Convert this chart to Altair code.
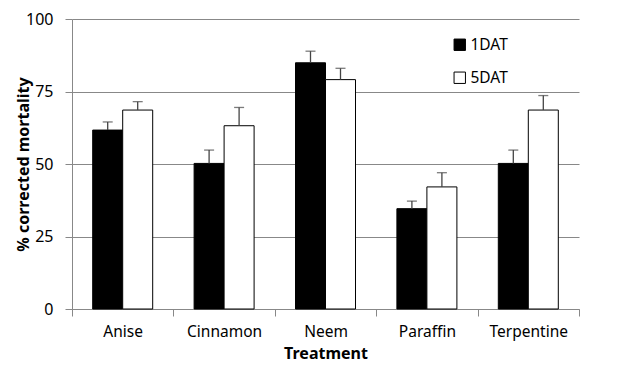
import altair as alt
import pandas as pd

treatments = ["Anise", "Cinnamon", "Neem", "Paraffin", "Terpentine"]
series = ["1DAT", "5DAT"]
mean_1dat = [61.7, 50.2, 84.9, 34.6, 50.2]
mean_5dat = [68.6, 63.2, 79.1, 42.1, 68.6]
err_1dat = [2.8, 4.6, 4.0, 2.6, 4.6]
err_5dat = [2.9, 6.3, 3.9, 4.9, 5.0]

rows = []
for i, t in enumerate(treatments):
    rows.append({"Treatment": t, "Series": "1DAT", "Mean": mean_1dat[i], "Top": mean_1dat[i] + err_1dat[i]})
    rows.append({"Treatment": t, "Series": "5DAT", "Mean": mean_5dat[i], "Top": mean_5dat[i] + err_5dat[i]})
df = pd.DataFrame(rows)

FONT = "Noto Sans"

x_enc = alt.X("Treatment:N", sort=treatments,
              scale=alt.Scale(paddingInner=0, paddingOuter=0),
              axis=alt.Axis(title="Treatment", tickBand="extent", labelAngle=0,
                            labelFontSize=15.5, titleFontSize=16, titleFontWeight="bold",
                            labelColor="#000", titleColor="#000",
                            domainColor="#888", tickColor="#888", tickSize=7,
                            labelPadding=8, titlePadding=6))
xoff = alt.XOffset("Series:N", sort=series,
                   scale=alt.Scale(paddingInner=0, paddingOuter=0.69))

bars = alt.Chart(df).mark_bar(stroke="black", strokeWidth=1).encode(
    x=x_enc,
    xOffset=xoff,
    y=alt.Y("Mean:Q", scale=alt.Scale(domain=[0, 100]),
            axis=alt.Axis(title="% corrected mortality", values=[0, 25, 50, 75, 100],
                          labelFontSize=16, titleFontSize=16, titleFontWeight="bold",
                          labelColor="#000", titleColor="#000",
                          gridColor="#888", domainColor="#888", tickColor="#888",
                          tickSize=7, labelPadding=12,
                          titleX=-49, titleY=145, titleAngle=-90,
                          titleAlign="center", titleBaseline="middle")),
    fill=alt.Fill("Series:N", sort=series,
                  scale=alt.Scale(domain=series, range=["black", "white"]),
                  legend=alt.Legend(title=None, orient="none", legendX=380, legendY=18,
                                    symbolType="square", symbolSize=130,
                                    symbolStrokeColor="black", symbolStrokeWidth=1,
                                    labelFontSize=15.5, labelColor="#000", rowPadding=16,
                                    labelOffset=3)),
)

rules = alt.Chart(df).mark_rule(color="#444", strokeWidth=1.3).encode(
    x=alt.X("Treatment:N", sort=treatments),
    xOffset=xoff,
    y="Mean:Q",
    y2="Top:Q",
)

caps = alt.Chart(df).mark_tick(color="#444", thickness=1.3, size=10, orient="horizontal").encode(
    x=alt.X("Treatment:N", sort=treatments),
    xOffset=xoff,
    y="Top:Q",
)

chart = alt.layer(bars, rules, caps).properties(
    width=507, height=290,
    padding={"left": 7, "top": 3, "right": 5, "bottom": 5}
).configure(font=FONT).configure_view(stroke=None).configure_axisX(grid=False)

chart.save("out.html", embed_options={"renderer": "svg", "actions": False})
